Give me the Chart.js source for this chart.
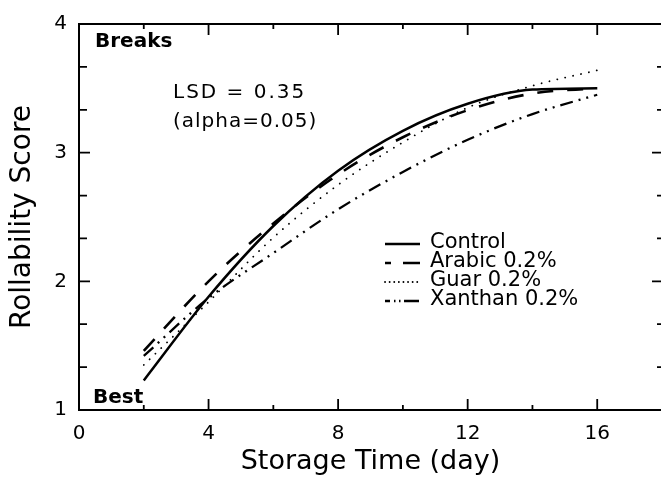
<!DOCTYPE html>
<html>
<head>
<meta charset="utf-8">
<script src="https://cdn.jsdelivr.net/npm/chart.js@4.4.0/dist/chart.umd.min.js"></script>
<style>
    html, body { margin: 0; padding: 0; background: #fff; overflow: hidden; }
    #wrap { width: 670px; height: 483px; }
</style>
</head>
<body>
<div id="wrap"><canvas id="rollChart" width="670" height="483"></canvas></div>
<script>
// storage time (day) and rollability score
const days = [2, 4, 6, 8, 10, 12, 14, 16];
const control = [1.23, 1.88, 2.43, 2.86, 3.17, 3.38, 3.49, 3.50];
const arabic = [1.46, 2.00, 2.45, 2.83, 3.12, 3.33, 3.46, 3.50];
const guar = [1.35, 1.84, 2.34, 2.75, 3.08, 3.35, 3.52, 3.64];
const xanthan = [1.42, 1.87, 2.22, 2.56, 2.85, 3.10, 3.30, 3.45];

const seriesNames = ['Control', 'Arabic 0.2%', 'Guar 0.2%', 'Xanthan 0.2%'];

const xTicks = [0, 4, 8, 12, 16];
const xMinorTicks = [2, 6, 10, 14];
const yTicks = [1, 2, 3, 4];
const yMinorTicks = [1.3333, 1.6667, 2.3333, 2.6667, 3.3333, 3.6667];

const FONT = "'DejaVu Sans', sans-serif";

function toPoints(values) {
    return days.map((d, i) => ({ x: d, y: values[i] }));
}

// frame with inward ticks, annotations and hand placed legend
const framePlugin = {
    id: 'frame',
    afterDraw(chart) {
        const { ctx, chartArea: a, scales: { x, y } } = chart;
        ctx.save();
        ctx.strokeStyle = '#000';
        ctx.lineWidth = 2;
        ctx.strokeRect(a.left, a.top, a.right - a.left, a.bottom - a.top);

        ctx.lineWidth = 1.8;
        ctx.beginPath();
        const vTick = (v, len) => {
            const px = x.getPixelForValue(v);
            ctx.moveTo(px, a.bottom); ctx.lineTo(px, a.bottom - len);
            ctx.moveTo(px, a.top); ctx.lineTo(px, a.top + len);
        };
        const hTick = (v, lenL, lenR) => {
            const py = y.getPixelForValue(v);
            ctx.moveTo(a.left, py); ctx.lineTo(a.left + lenL, py);
            ctx.moveTo(a.right, py); ctx.lineTo(a.right - lenR, py);
        };
        xTicks.forEach(v => vTick(v, 11));
        xMinorTicks.forEach(v => vTick(v, 5));
        yTicks.forEach(v => hTick(v, 11, 10));
        yMinorTicks.forEach(v => hTick(v, 8, 5));
        ctx.stroke();

        ctx.fillStyle = '#000';
        ctx.textAlign = 'left';
        ctx.textBaseline = 'alphabetic';
        ctx.font = 'bold 20px ' + FONT;
        ctx.fillText('Breaks', 95, 47);
        ctx.fillText('Best', 93, 403);

        ctx.font = '20px ' + FONT;
        ctx.letterSpacing = '2px';
        ctx.fillText('LSD = 0.35', 173, 98);
        ctx.letterSpacing = '1px';
        ctx.fillText('(alpha=0.05)', 173, 127);
        ctx.letterSpacing = '0px';

        // legend
        const rows = [248, 267, 286, 305];
        ctx.font = '21px ' + FONT;
        chart.data.datasets.forEach((ds, i) => {
            const ly = rows[i] - 4;
            ctx.save();
            ctx.lineWidth = ds.borderWidth;
            ctx.lineCap = ds.borderCapStyle || 'butt';
            ctx.setLineDash(ds.legendDash || []);
            ctx.beginPath();
            ctx.moveTo(385, ly);
            ctx.lineTo(420, ly);
            ctx.stroke();
            ctx.restore();
            ctx.fillText(ds.label, 430, rows[i]);
        });
        ctx.restore();
    }
};

const ctx = document.getElementById('rollChart');
new Chart(ctx, {
    type: 'line',
    data: {
        datasets: [{
            label: seriesNames[0],
            data: toPoints(control),
            borderColor: '#000',
            borderWidth: 2.5,
            legendDash: []
        }, {
            label: seriesNames[1],
            data: toPoints(arabic),
            borderColor: '#000',
            borderWidth: 2.6,
            borderDash: [16, 14],
            legendDash: [6, 12, 17, 100]
        }, {
            label: seriesNames[2],
            data: toPoints(guar),
            borderColor: '#000',
            borderWidth: 1.8,
            borderCapStyle: 'round',
            borderDash: [0.1, 8],
            legendDash: [0.1, 4.5]
        }, {
            label: seriesNames[3],
            data: toPoints(xanthan),
            borderColor: '#000',
            borderWidth: 2.3,
            borderDash: [13, 6, 2, 6, 2, 6],
            legendDash: [5, 4, 1.5, 3.5, 1.5, 3.5, 15, 100]
        }]
    },
    options: {
        responsive: false,
        animation: false,
        layout: { padding: { top: 20, right: 8, left: 0, bottom: 0 } },
        elements: {
            point: { radius: 0 },
            line: { cubicInterpolationMode: 'monotone', fill: false }
        },
        plugins: {
            legend: { display: false },
            tooltip: { enabled: false }
        },
        scales: {
            x: {
                type: 'linear',
                min: 0,
                max: 18,
                afterFit: s => { s.height = 73; },
                afterBuildTicks: s => { s.ticks = xTicks.map(v => ({ value: v })); },
                grid: { display: false, drawTicks: false },
                border: { display: false },
                ticks: { color: '#000', padding: 12, font: { family: FONT, size: 20 } },
                title: {
                    display: true,
                    text: 'Storage Time (day)',
                    color: '#000',
                    font: { family: FONT, size: 27 },
                    padding: { top: 0, bottom: 5 }
                }
            },
            y: {
                min: 1,
                max: 4,
                afterFit: s => { s.width = 79; },
                afterBuildTicks: s => { s.ticks = yTicks.map(v => ({ value: v })); },
                grid: { display: false, drawTicks: false },
                border: { display: false },
                ticks: { color: '#000', padding: 12, font: { family: FONT, size: 20 } },
                title: {
                    display: true,
                    text: 'Rollability Score',
                    color: '#000',
                    font: { family: FONT, size: 28 },
                    padding: { top: 6, bottom: 0 }
                }
            }
        }
    },
    plugins: [framePlugin]
});
</script>
</body>
</html>
